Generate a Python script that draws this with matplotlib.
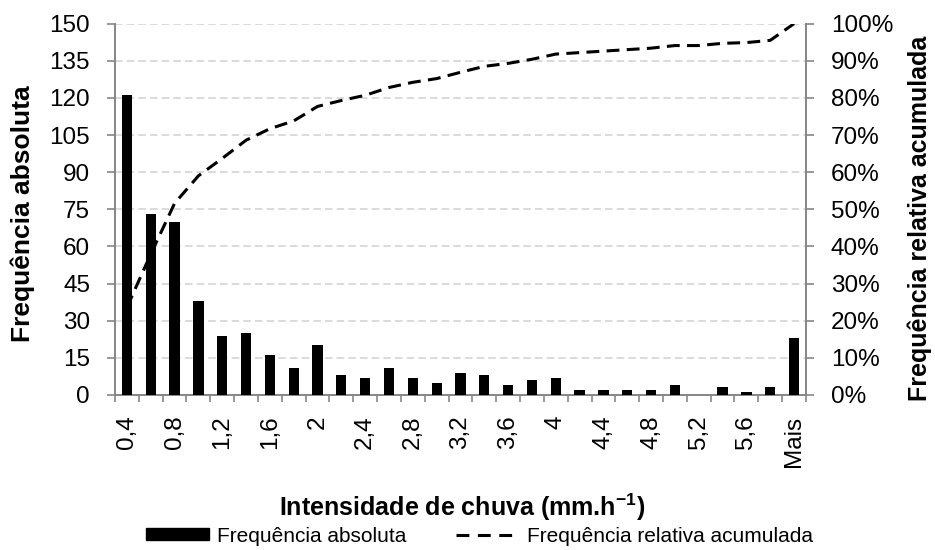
import numpy as np
import matplotlib.pyplot as plt
from matplotlib.patches import Patch
from matplotlib.lines import Line2D

plt.rcParams['font.family'] = ['Liberation Sans', 'DejaVu Sans']
plt.rcParams['mathtext.fontset'] = 'custom'
plt.rcParams['mathtext.rm'] = 'Liberation Sans'
plt.rcParams['mathtext.bf'] = 'Liberation Sans:bold'

# Categories (rain intensity classes) and values
categories = ['0,4', '0,6', '0,8', '1', '1,2', '1,4', '1,6', '1,8', '2', '2,2',
              '2,4', '2,6', '2,8', '3', '3,2', '3,4', '3,6', '3,8', '4', '4,2',
              '4,4', '4,6', '4,8', '5', '5,2', '5,4', '5,6', '5,8', 'Mais']
freq_abs = [121, 73, 70, 38, 24, 25, 16, 11, 20, 8,
            7, 11, 7, 5, 9, 8, 4, 6, 7, 2,
            2, 2, 2, 4, 0, 3, 1, 3, 23]
freq_acum = [23.6, 37.9, 51.6, 59.0, 63.7, 68.6, 71.7, 73.8, 77.7, 79.3,
             80.7, 82.8, 84.2, 85.2, 86.9, 88.5, 89.3, 90.4, 91.8, 92.2,
             92.6, 93.0, 93.4, 94.1, 94.1, 94.7, 94.9, 95.5, 100.0]

grey = '#868686'
x = np.arange(len(categories))

fig = plt.figure(figsize=(9.35, 5.5), dpi=100)
ax = fig.add_axes([0.123, 0.282, 0.739, 0.675])
ax2 = ax.twinx()

# bars
ax.bar(x, freq_abs, width=0.43, color='black', zorder=3)
ax.set_xlim(-0.5, len(categories) - 0.5)
ax.set_ylim(0, 150)
ax.set_yticks(np.arange(0, 151, 15))
ax.yaxis.grid(True, color='#d4d4d4', linestyle=(0, (4.5, 2.5)), linewidth=1.2, zorder=0)
ax.set_axisbelow(True)

# cumulative line on secondary axis
ax2.plot(x, np.array(freq_acum) / 100, color='black', linewidth=2.2,
         dashes=(4.2, 2.4), zorder=4)
ax2.set_ylim(0, 1)
ax2.set_yticks(np.arange(0, 1.01, 0.1))
ax2.set_yticklabels([f'{int(round(v * 100))}%' for v in np.arange(0, 1.01, 0.1)])

# x ticks: labels every other class, marks at class boundaries
ax.set_xticks(x[::2])
ax.set_xticklabels(categories[::2], rotation=90, va='top', ha='center')
ax.set_xticks(np.arange(-0.5, len(categories)), minor=True)
ax.tick_params(axis='x', which='major', length=0, pad=15, labelsize=17.5)
ax.tick_params(axis='x', which='minor', length=5, color=grey, width=1.2)
ax.tick_params(axis='y', length=6, color=grey, width=1.2, labelsize=17.5, pad=12)
ax2.tick_params(axis='y', length=6, color=grey, width=1.2, labelsize=17.5, pad=12)

for a in (ax, ax2):
    a.spines['top'].set_visible(False)
    for s in ('left', 'right', 'bottom'):
        a.spines[s].set_color(grey)
        a.spines[s].set_linewidth(1.4)
ax.spines['right'].set_visible(False)
ax2.spines['left'].set_visible(False)
ax2.spines['bottom'].set_visible(False)

# axis titles
fig.text(23 / 935, 1 - 214 / 550, 'Frequência absoluta', rotation=90,
         ha='center', va='center', fontsize=19, fontweight='bold')
fig.text(920 / 935, 1 - 218 / 550, 'Frequência relativa acumulada', rotation=90,
         ha='center', va='center', fontsize=18, fontweight='bold')
fig.text(0.494, 0.078, 'Intensidade de chuva (mm.h$^{\\mathbf{-1}}$)', ha='center',
         va='center', fontsize=18, fontweight='bold')

handles = [Patch(facecolor='black', edgecolor='black'),
           Line2D([], [], color='black', linewidth=2.2, dashes=(4.2, 2.8))]
fig.legend(handles, ['Frequência absoluta', 'Frequência relativa acumulada'],
           loc='center', bbox_to_anchor=(0.513, 0.025), ncol=2, frameon=False,
           fontsize=15, handlelength=3.0, handleheight=0.5, handletextpad=0.4,
           columnspacing=2.4, borderpad=0, borderaxespad=0)

fig.savefig('out.png', dpi=100)
